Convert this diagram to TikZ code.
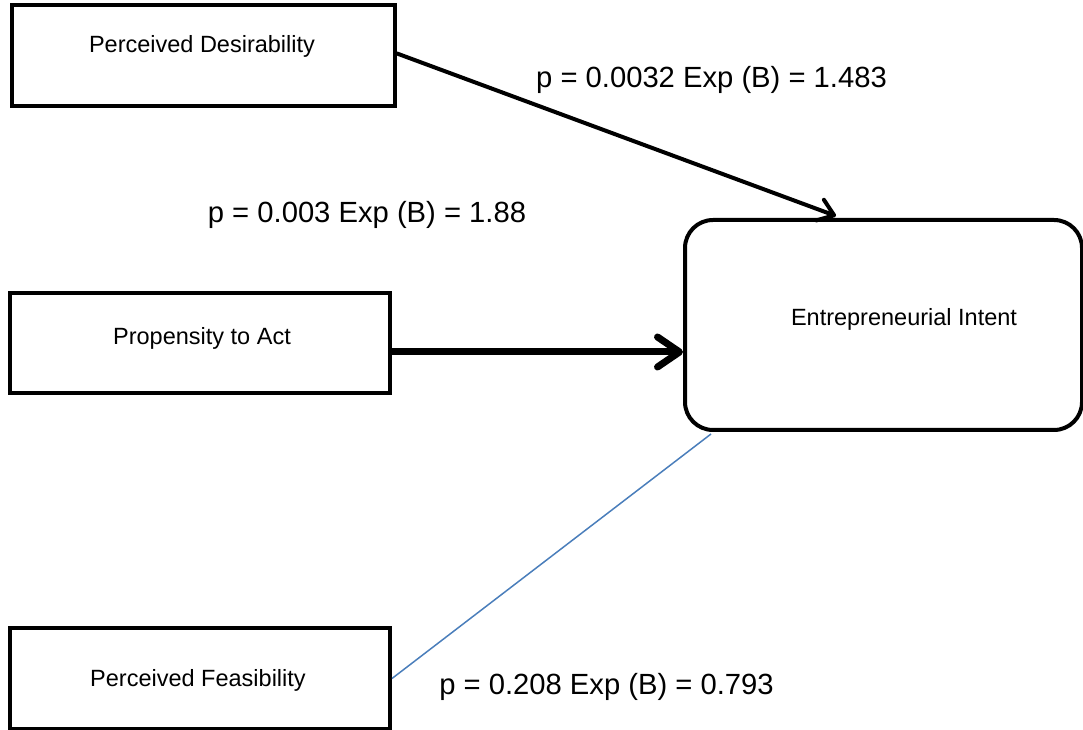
\documentclass[tikz,border=0pt]{standalone}
\usepackage{fontspec}
\setmainfont{Liberation Sans}
\usetikzlibrary{arrows.meta,calc}
\definecolor{linkblue}{RGB}{74,126,187}
\tikzset{
  x=1pt,y=1pt,
  box/.style={draw=black,line width=4pt,rectangle,inner sep=0pt},
  roundbox/.style={draw=black,line width=4pt,rectangle,rounded corners=28pt,inner sep=0pt},
  boxtext/.style={anchor=base,font=\fontsize{23.5}{28}\selectfont,inner sep=0pt},
  stat/.style={anchor=base,font=\fontsize{29.2}{34}\selectfont,inner sep=0pt},
  thinarrow/.style={line width=4pt,line cap=round,-{Straight Barb[length=15pt,width=22pt,line cap=round,line join=round]}},
  thickarrow/.style={line width=7pt,line cap=butt,-{Straight Barb[length=22pt,width=30pt,line cap=round,line join=round]}},
  blueline/.style={draw=linkblue,line width=1.5pt}
}
\begin{document}
\begin{tikzpicture}
\useasboundingbox (0,0) rectangle (1083,730);
% boxes
\node[box,minimum width=383pt,minimum height=101pt] (pd) at (203.5,674.5) {};
\node[box,minimum width=380pt,minimum height=100pt] (pa) at (200,387) {};
\node[box,minimum width=380pt,minimum height=101pt] (pf) at (200,51.5) {};
\node[roundbox,minimum width=397pt,minimum height=210pt] (ei) at (883.5,405) {};
% box texts
\node[boxtext] (pdt) at (202,677) {Perceived Desirability};
\node[boxtext] (pat) at (202,385) {Propensity to Act};
\node[boxtext] (pft) at (198,43) {Perceived Feasibility};
\node[boxtext] (eit) at (904,404) {Entrepreneurial Intent};
% connector end points
\coordinate (eitop) at ($(ei.north west)+(153,2)$);
\coordinate (paout) at ($(pa.east)+(0,-9)$);
\coordinate (eiin) at ($(ei.west)+(0,-27)$);
\coordinate (eibl) at ($(ei.south west)+(28,-2)$);
% connectors
\draw[thinarrow] ($(pd.east)+(0,2)$) -- (eitop);
\draw[thickarrow] (paout) -- (eiin);
\draw[blueline] (pf.east) -- (eibl);
% statistics
\node[stat] (s1) at (711.5,642) {p = 0.0032 Exp (B) = 1.483};
\node[stat] (s2) at (367,507) {p = 0.003 Exp (B) = 1.88};
\node[stat] (s3) at (606.5,35) {p = 0.208 Exp (B) = 0.793};
\end{tikzpicture}
\end{document}
